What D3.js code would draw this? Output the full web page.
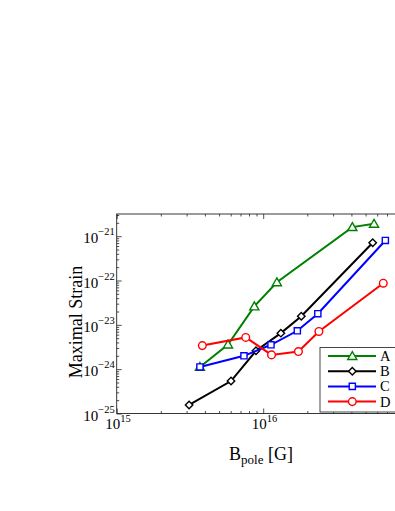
<!DOCTYPE html>
<html>
<head>
<meta charset="utf-8">
<script src="https://cdn.jsdelivr.net/npm/d3@7"></script>
<style>
  body { margin: 0; background: #fff; }
  svg { display: block; font-family: "Liberation Serif", "DejaVu Serif", serif; }
</style>
</head>
<body>
<svg id="chart" width="395" height="511"></svg>
<script>
// field at the pole [G]
const bA = [3.70e15, 5.75e15, 8.70e15, 1.24e16, 4.06e16, 5.71e16]
const bB = [3.12e15, 6.03e15, 8.93e15, 1.32e16, 1.82e16, 5.59e16]
const bC = [3.70e15, 7.39e15, 1.13e16, 1.71e16, 2.36e16, 6.82e16]
const bD = [3.84e15, 7.60e15, 1.14e16, 1.74e16, 2.40e16, 6.60e16]
// maximal strain
const strainA = [1.12e-24, 3.6e-24, 2.6e-23, 9.1e-23, 1.6e-21, 1.9e-21]
const strainB = [1.56e-25, 5.4e-25, 2.6e-24, 6.5e-24, 1.57e-23, 7.1e-22]
const strainC = [1.12e-24, 2.0e-24, 3.55e-24, 7.35e-24, 1.78e-23, 8.0e-22]
const strainD = [3.4e-24, 5.2e-24, 2.1e-24, 2.5e-24, 7.1e-24, 8.7e-23]
const seriesNames = ["A", "B", "C", "D"]
const xTickExps = [15, 16]
const yTickExps = [-25, -24, -23, -22, -21]

const series = [
  { name: seriesNames[0], xs: bA, ys: strainA, color: "#008000", marker: "triangle" },
  { name: seriesNames[1], xs: bB, ys: strainB, color: "#000000", marker: "diamond" },
  { name: seriesNames[2], xs: bC, ys: strainC, color: "#0000ff", marker: "square" },
  { name: seriesNames[3], xs: bD, ys: strainD, color: "#ff0000", marker: "circle" }
]

const plotL = 116.7, plotR = 409.7, plotT = 214, plotB = 413.5

const x = d3.scaleLog().domain([1e15, 1e17]).range([plotL, plotR])
const y = d3.scaleLog().domain([1e-25, Math.pow(10, -20.5)]).range([plotB, plotT])

const svg = d3.select("#chart")

// minor tick positions
const xMinor = []
for (let e = 15; e < 17; e++) for (let m = 2; m <= 9; m++) xMinor.push(m * Math.pow(10, e))
const yMinor = []
for (let e = -25; e < -20; e++) for (let m = 2; m <= 9; m++) {
  const v = m * Math.pow(10, e)
  if (v < y.domain()[1]) yMinor.push(v)
}
const xMajor = xTickExps.map(e => Math.pow(10, e))
const yMajor = yTickExps.map(e => Math.pow(10, e))

function tickAxis(axisFn, scale, values, size, translate) {
  const g = svg.append("g")
    .attr("transform", translate)
    .call(axisFn(scale).tickValues(values).tickSize(size).tickFormat(""))
  g.select(".domain").remove()
  g.selectAll("line").attr("stroke", "#222").attr("stroke-width", 0.8)
}

tickAxis(d3.axisBottom, x, xMajor, -5, `translate(0,${plotB})`)
tickAxis(d3.axisBottom, x, xMinor, -2.5, `translate(0,${plotB})`)
tickAxis(d3.axisTop, x, xMajor, -5, `translate(0,${plotT})`)
tickAxis(d3.axisTop, x, xMinor, -2.5, `translate(0,${plotT})`)
tickAxis(d3.axisLeft, y, yMajor, -5, `translate(${plotL},0)`)
tickAxis(d3.axisLeft, y, yMinor, -2.5, `translate(${plotL},0)`)

// frame
svg.append("rect")
  .attr("x", plotL).attr("y", plotT)
  .attr("width", plotR - plotL).attr("height", plotB - plotT)
  .attr("fill", "none").attr("stroke", "#222").attr("stroke-width", 0.9)

// tick labels
xTickExps.forEach(e => {
  const t = svg.append("text")
    .attr("x", x(Math.pow(10, e)) - 11.5)
    .attr("y", 429)
    .attr("font-size", 15)
  t.append("tspan").text("10")
  t.append("tspan").attr("dy", -7).attr("font-size", 10.5).text(e)
})

yTickExps.forEach(e => {
  const t = svg.append("text")
    .attr("x", 83.3)
    .attr("y", y(Math.pow(10, e)) + 7)
    .attr("font-size", 15)
  t.append("tspan").text("10")
  t.append("tspan").attr("dy", -8).attr("font-size", 10.5).text("\u2212" + (-e))
})

// axis titles
const xl = svg.append("text")
  .attr("x", 229).attr("y", 460)
  .attr("font-size", 18)
xl.append("tspan").text("B")
xl.append("tspan").attr("dy", 4).attr("font-size", 13).text("pole")
xl.append("tspan").attr("dy", -4).text(" [G]")

svg.append("text")
  .attr("transform", `translate(82,322) rotate(-90)`)
  .attr("text-anchor", "middle")
  .attr("font-size", 18)
  .text("Maximal Strain")

// markers
const symbolType = {
  triangle: d3.symbolTriangle,
  diamond: d3.symbolSquare,
  square: d3.symbolSquare,
  circle: d3.symbolCircle
}
const symbolSize = { triangle: 36, diamond: 28, square: 38, circle: 46 }

function drawMarker(g, s, cx, cy) {
  let tf = `translate(${cx},${cy})`
  if (s.marker === "triangle") tf += " translate(0,0.8)"
  if (s.marker === "diamond") tf += " rotate(45)"
  g.append("path")
    .attr("d", d3.symbol().type(symbolType[s.marker]).size(symbolSize[s.marker])())
    .attr("transform", tf)
    .attr("fill", "#fff")
    .attr("stroke", s.color)
    .attr("stroke-width", 1.4)
}

const line = d3.line().x(d => x(d[0])).y(d => y(d[1]))

const plot = svg.append("g")
series.forEach(s => {
  const pts = s.xs.map((v, i) => [v, s.ys[i]])
  plot.append("path")
    .datum(pts)
    .attr("d", line)
    .attr("fill", "none")
    .attr("stroke", s.color)
    .attr("stroke-width", 2)
  pts.forEach(p => drawMarker(plot, s, x(p[0]), y(p[1])))
})

// legend
const lg = svg.append("g")
lg.append("rect")
  .attr("x", 320).attr("y", 347.5)
  .attr("width", 100).attr("height", 64.5)
  .attr("fill", "#fff").attr("stroke", "#333").attr("stroke-width", 0.9)

series.forEach((s, i) => {
  const ly = 356 + i * 15.2
  lg.append("line")
    .attr("x1", 328).attr("x2", 376)
    .attr("y1", ly).attr("y2", ly)
    .attr("stroke", s.color).attr("stroke-width", 2)
  drawMarker(lg, s, 352.3, ly)
  lg.append("text")
    .attr("x", 380).attr("y", ly + 5)
    .attr("font-size", 14.5)
    .text(s.name)
})
</script>
</body>
</html>
